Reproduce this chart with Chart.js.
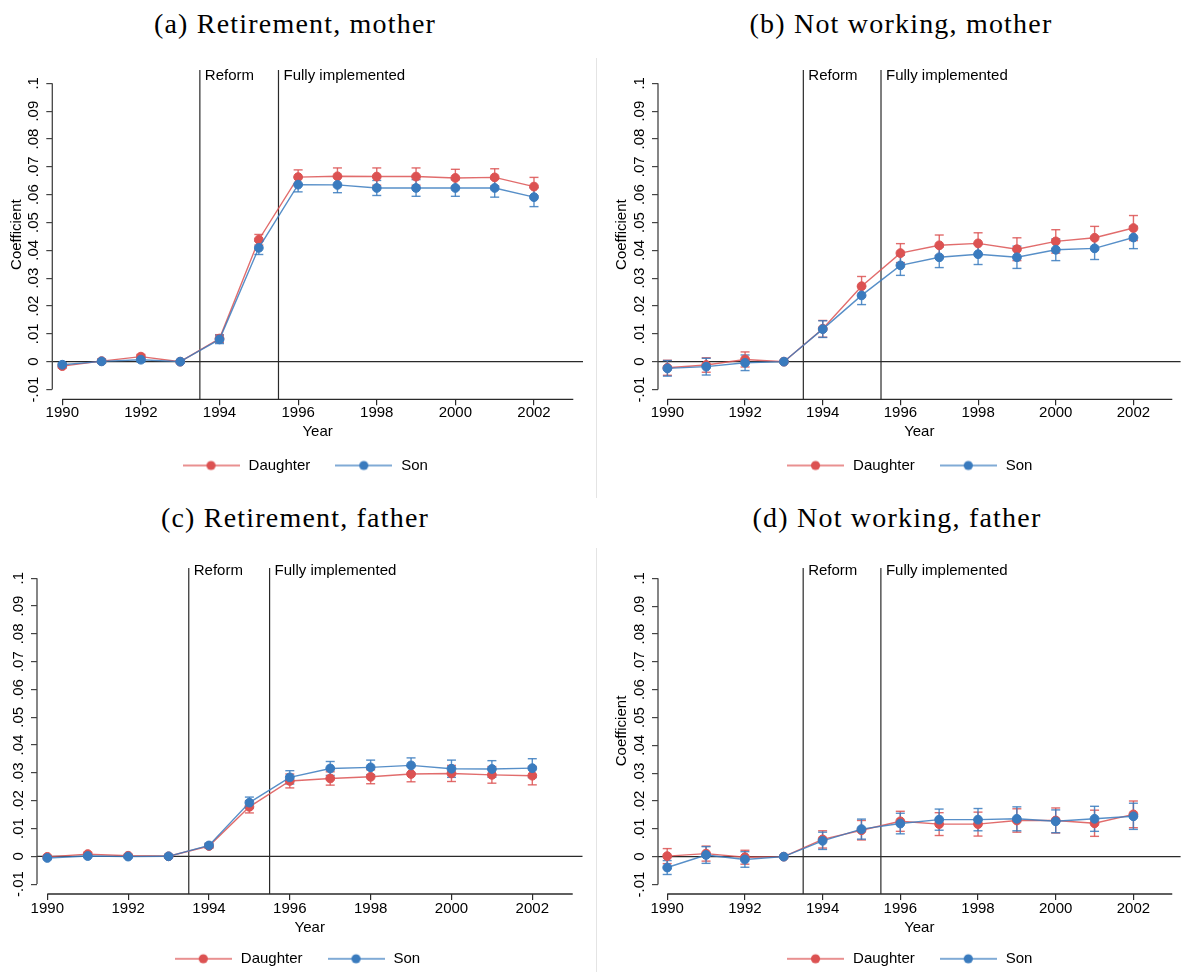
<!DOCTYPE html>
<html>
<head>
<meta charset="utf-8">
<title>Event-study coefficients: retirement and not working, mothers and fathers</title>
<script src="https://cdn.jsdelivr.net/npm/chart.js@4.4.1/dist/chart.umd.min.js"></script>
<style>
  html, body { margin: 0; padding: 0; background: #fff; }
  body { width: 1186px; height: 972px; position: relative; overflow: hidden; }
  .title {
    position: absolute;
    font-family: 'Liberation Serif', 'Times New Roman', serif;
    font-size: 28px;
    letter-spacing: 1.2px;
    line-height: 1;
    color: #000;
    white-space: nowrap;
    transform: translate(-50%, -50%);
  }
  .sep { position: absolute; width: 1px; background: #e4e4e4; }
  canvas { position: absolute; }
</style>
</head>
<body>
<div class="title" style="left:295px; top:24px">(a) Retirement, mother</div>
<div class="title" style="left:901px; top:24px">(b) Not working, mother</div>
<div class="title" style="left:295px; top:518px">(c) Retirement, father</div>
<div class="title" style="left:897px; top:518px">(d) Not working, father</div>

<div class="sep" style="left:596px; top:58px; height:440px"></div>
<div class="sep" style="left:596px; top:548px; height:424px"></div>

<canvas id="panelA" width="593" height="440" style="left:0; top:50px; width:593px; height:440px"></canvas>
<canvas id="panelB" width="593" height="440" style="left:593px; top:50px; width:593px; height:440px"></canvas>
<canvas id="panelC" width="593" height="440" style="left:0; top:540px; width:593px; height:440px"></canvas>
<canvas id="panelD" width="593" height="440" style="left:593px; top:540px; width:593px; height:440px"></canvas>

<script>
// ---- data ----
const years = [1990, 1991, 1992, 1993, 1994, 1995, 1996, 1997, 1998, 1999, 2000, 2001, 2002];
const xTicks = [1990, 1992, 1994, 1996, 1998, 2000, 2002];
const xAxisEnd = 2003;
const yTicks = [-0.01, 0, 0.01, 0.02, 0.03, 0.04, 0.05, 0.06, 0.07, 0.08, 0.09, 0.1];
const yTickLabels = ['-.01', '0', '.01', '.02', '.03', '.04', '.05', '.06', '.07', '.08', '.09', '.1'];
const seriesNames = ['Daughter', 'Son'];
const eventLines = [1993.5, 1995.5];
const eventLabels = ['Reform', 'Fully implemented'];

// (a) Retirement, mother  -- coefficient and CI half-width
const aDau   = [-0.0016, 0.0002, 0.0018, 0, 0.0083, 0.0438, 0.0663, 0.0666, 0.0665, 0.0665, 0.0660, 0.0662, 0.0629];
const aDauHw = [0.0007, 0.0007, 0.0008, 0, 0.0014, 0.0019, 0.0026, 0.0030, 0.0031, 0.0031, 0.0031, 0.0031, 0.0033];
const aSon   = [-0.0011, 0.0001, 0.0007, 0, 0.0080, 0.0409, 0.0636, 0.0635, 0.0624, 0.0624, 0.0624, 0.0624, 0.0591];
const aSonHw = [0.0007, 0.0007, 0.0008, 0, 0.0015, 0.0024, 0.0026, 0.0028, 0.0027, 0.0030, 0.0030, 0.0033, 0.0034];

// (b) Not working, mother
const bDau   = [-0.0022, -0.0012, 0.0008, 0, 0.0118, 0.0271, 0.0390, 0.0418, 0.0425, 0.0404, 0.0432, 0.0445, 0.0480];
const bDauHw = [0.0027, 0.0026, 0.0027, 0, 0.0030, 0.0035, 0.0034, 0.0037, 0.0038, 0.0041, 0.0042, 0.0041, 0.0045];
const bSon   = [-0.0024, -0.0018, -0.0004, 0, 0.0117, 0.0238, 0.0346, 0.0375, 0.0386, 0.0375, 0.0402, 0.0407, 0.0446];
const bSonHw = [0.0028, 0.0030, 0.0028, 0, 0.0030, 0.0033, 0.0036, 0.0037, 0.0037, 0.0040, 0.0039, 0.0040, 0.0040];

// (c) Retirement, father
const cDau   = [-0.0002, 0.0008, 0.0002, 0, 0.0037, 0.0178, 0.0271, 0.0280, 0.0286, 0.0296, 0.0298, 0.0293, 0.0290];
const cDauHw = [0.0005, 0.0006, 0.0005, 0, 0.0008, 0.0022, 0.0025, 0.0024, 0.0025, 0.0028, 0.0029, 0.0030, 0.0033];
const cSon   = [-0.0006, 0.0001, -0.0001, 0, 0.0039, 0.0193, 0.0284, 0.0316, 0.0320, 0.0327, 0.0315, 0.0314, 0.0317];
const cSonHw = [0.0005, 0.0005, 0.0005, 0, 0.0008, 0.0020, 0.0024, 0.0025, 0.0026, 0.0027, 0.0031, 0.0030, 0.0034];

// (d) Not working, father
const dDau   = [0.0002, 0.0011, -0.0002, 0, 0.0062, 0.0095, 0.0127, 0.0117, 0.0117, 0.0130, 0.0130, 0.0120, 0.0152];
const dDauHw = [0.0027, 0.0027, 0.0025, 0, 0.0031, 0.0035, 0.0036, 0.0041, 0.0043, 0.0042, 0.0045, 0.0047, 0.0048];
const dSon   = [-0.0039, 0.0006, -0.0010, 0, 0.0057, 0.0099, 0.0119, 0.0133, 0.0133, 0.0136, 0.0127, 0.0136, 0.0145];
const dSonHw = [0.0025, 0.0030, 0.0028, 0, 0.0031, 0.0036, 0.0037, 0.0038, 0.0040, 0.0043, 0.0041, 0.0045, 0.0047];

// ---- style ----
const RED = '#DC5252';
const RED_LINE = 'rgba(220, 82, 82, 0.85)';
const BLUE = '#3A7BBE';
const BLUE_LINE = 'rgba(58, 123, 190, 0.85)';
const AXIS = '#2a2a2a';
const FONT = "'Liberation Sans', Arial, Helvetica, sans-serif";

Chart.defaults.font.family = FONT;
Chart.defaults.font.size = 15;
Chart.defaults.color = '#000';

// panel frames (padding, scale box sizes and axis ranges matched to the figure)
const panels = [
  { id: 'panelA', dau: aDau, dauHw: aDauHw, son: aSon, sonHw: aSonHw,
    pl: 26, pr: 10, pt: 20, pb: 7, yw: 26.3, xh: 35.2,
    xMin: 1989.746, xMax: 2003.247, yMin: -0.01352, yMax: 0.10478,
    yTitle: true, coefPad: -16.5, tickPad: 0.5, yearPad: -5.2, labelDy: 6 },
  { id: 'panelB', dau: bDau, dauHw: bDauHw, son: bSon, sonHw: bSonHw,
    pl: 39, pr: 0, pt: 20, pb: 7, yw: 26, xh: 35.2,
    xMin: 1989.758, xMax: 2003.214, yMin: -0.01352, yMax: 0.10478,
    yTitle: true, coefPad: -18.1, tickPad: 0.5, yearPad: -5.2, labelDy: 6 },
  { id: 'panelC', dau: cDau, dauHw: cDauHw, son: cSon, sonHw: cSonHw,
    pl: 11, pr: 10.5, pt: 28, pb: 3.7, yw: 26, xh: 33.8,
    xMin: 1989.745, xMax: 2003.242, yMin: -0.01356, yMax: 0.1037,
    yTitle: false, coefPad: 0, tickPad: 1.8, yearPad: -7.2, labelDy: 3 },
  { id: 'panelD', dau: dDau, dauHw: dDauHw, son: dSon, sonHw: dSonHw,
    pl: 39, pr: 0, pt: 28, pb: 3.7, yw: 26, xh: 33.8,
    xMin: 1989.763, xMax: 2003.215, yMin: -0.01341, yMax: 0.1037,
    yTitle: true, coefPad: -18.1, tickPad: 1.8, yearPad: -7.2, labelDy: 3 }
];

function strokeLine(ctx, x1, y1, x2, y2) {
  ctx.beginPath();
  ctx.moveTo(x1, y1);
  ctx.lineTo(x2, y2);
  ctx.stroke();
}

// little "line with a dot" picture used as legend key
function legendIcon(lineColor, dotColor) {
  const c = document.createElement('canvas');
  c.width = 57;
  c.height = 12;
  const g = c.getContext('2d');
  g.strokeStyle = lineColor;
  g.lineWidth = 1.4;
  strokeLine(g, 0, 6, 57, 6);
  g.fillStyle = dotColor;
  g.beginPath();
  g.arc(28.5, 6, 4.6, 0, Math.PI * 2);
  g.fill();
  return c;
}

// reference lines, axis lines over the tick range, event labels and CI caps
const eventPlugin = {
  id: 'eventLines',
  beforeDatasetsDraw(chart, args, opts) {
    const { ctx, chartArea: area, scales: { x, y } } = chart;
    ctx.save();
    ctx.strokeStyle = AXIS;
    ctx.lineWidth = 1.2;

    const y0 = y.getPixelForValue(0);
    strokeLine(ctx, area.left, y0, area.right, y0);
    eventLines.forEach(v => {
      const px = x.getPixelForValue(v);
      strokeLine(ctx, px, area.top, px, area.bottom);
    });

    ctx.strokeStyle = '#444';
    ctx.lineWidth = 1.3;
    strokeLine(ctx, area.left, y.getPixelForValue(yTicks[0]), area.left, y.getPixelForValue(yTicks[yTicks.length - 1]));
    ctx.strokeStyle = AXIS;
    strokeLine(ctx, x.getPixelForValue(xTicks[0]), area.bottom, x.getPixelForValue(xAxisEnd), area.bottom);

    ctx.fillStyle = '#000';
    ctx.font = '15px ' + FONT;
    ctx.textAlign = 'left';
    ctx.textBaseline = 'middle';
    eventLines.forEach((v, i) => {
      ctx.fillText(eventLabels[i], x.getPixelForValue(v) + 5, area.top + opts.labelDy);
    });

    chart.data.datasets.forEach(ds => {
      ctx.strokeStyle = ds.borderColor;
      ctx.lineWidth = 1.4;
      ds.data.forEach((pt, i) => {
        const hw = ds.errHw[i];
        if (!hw) return;
        const px = x.getPixelForValue(pt.x);
        const lo = y.getPixelForValue(pt.y - hw);
        const hi = y.getPixelForValue(pt.y + hw);
        strokeLine(ctx, px, lo, px, hi);
        strokeLine(ctx, px - 4.5, lo, px + 4.5, lo);
        strokeLine(ctx, px - 4.5, hi, px + 4.5, hi);
      });
    });
    ctx.restore();
  }
};

function makeSeries(label, values, hw, color, lineColor, order) {
  return {
    label: label,
    data: years.map((yr, i) => ({ x: yr, y: values[i] })),
    errHw: hw,
    borderColor: lineColor,
    backgroundColor: color,
    borderWidth: 1.4,
    pointRadius: 4.4,
    pointBorderWidth: 1,
    pointBorderColor: color,
    pointBackgroundColor: color,
    tension: 0,
    order: order
  };
}

function buildPanel(p) {
  const ctx = document.getElementById(p.id).getContext('2d');
  const grid = {
    display: true,
    drawOnChartArea: false,
    drawTicks: true,
    tickLength: 6,
    color: AXIS,
    lineWidth: 1.2
  };
  new Chart(ctx, {
    type: 'line',
    data: {
      datasets: [
        makeSeries(seriesNames[0], p.dau, p.dauHw, RED, RED_LINE, 1),
        makeSeries(seriesNames[1], p.son, p.sonHw, BLUE, BLUE_LINE, 0)
      ]
    },
    options: {
      responsive: false,
      animation: false,
      events: [],
      layout: { padding: { left: p.pl, right: p.pr, top: p.pt, bottom: p.pb } },
      plugins: {
        tooltip: { enabled: false },
        eventLines: { labelDy: p.labelDy },
        legend: {
          position: 'bottom',
          labels: {
            usePointStyle: true,
            pointStyleWidth: 60,
            padding: 23.5,
            color: '#000',
            font: { size: 15 },
            generateLabels: chart => chart.data.datasets.map((ds, i) => ({
              text: ds.label,
              datasetIndex: i,
              pointStyle: legendIcon(ds.borderColor, ds.pointBackgroundColor),
              fillStyle: 'transparent',
              strokeStyle: 'transparent',
              lineWidth: 0,
              fontColor: '#000',
              hidden: false
            }))
          }
        }
      },
      scales: {
        x: {
          type: 'linear',
          min: p.xMin,
          max: p.xMax,
          afterBuildTicks: s => { s.ticks = xTicks.map(v => ({ value: v })); },
          afterFit: s => { s.height = p.xh; },
          border: { display: false },
          grid: grid,
          ticks: {
            autoSkip: false,
            maxRotation: 0,
            padding: p.tickPad,
            font: { size: 15, lineHeight: 1 },
            callback: v => String(v)
          },
          title: {
            display: true,
            text: 'Year',
            font: { size: 15, lineHeight: 1 },
            padding: { top: 0, bottom: p.yearPad }
          }
        },
        y: {
          type: 'linear',
          min: p.yMin,
          max: p.yMax,
          afterBuildTicks: s => { s.ticks = yTicks.map(v => ({ value: v })); },
          afterFit: s => { s.width = p.yw; },
          border: { display: false },
          grid: Object.assign({}, grid, { color: '#444' }),
          ticks: {
            autoSkip: false,
            minRotation: 90,
            maxRotation: 90,
            crossAlign: 'center',
            padding: -0.4,
            font: { size: 15, lineHeight: 1 },
            callback: (v, i) => yTickLabels[i]
          },
          title: {
            display: p.yTitle,
            text: 'Coefficient',
            font: { size: 15, lineHeight: 1 },
            padding: { top: p.coefPad, bottom: 0 }
          }
        }
      }
    },
    plugins: [eventPlugin]
  });
}

panels.forEach(buildPanel);
</script>
</body>
</html>
